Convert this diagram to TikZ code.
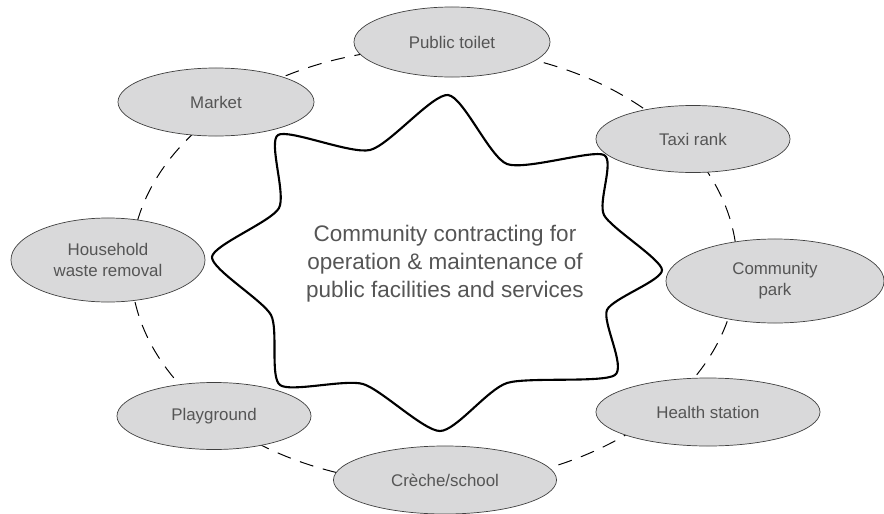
\documentclass[tikz,border=0pt]{standalone}
\usepackage{fontspec}
\setmainfont{Liberation Sans}
\usetikzlibrary{shapes.geometric}
\definecolor{bubble}{RGB}{217,217,218}
\definecolor{ink}{RGB}{85,85,85}
\tikzset{
  facility/.style={ellipse,draw=black!75,line width=0.5pt,fill=bubble,inner sep=0pt,
    text=ink,align=center,font=\fontsize{12}{15}\selectfont},
}
\begin{document}
\begin{tikzpicture}[x=0.025cm,y=-0.025cm]
  \useasboundingbox (0,0) rectangle (884,514);
  % ring behind the facilities
  \draw[dash pattern=on 10pt off 7pt,line width=0.7pt] (434,266) ellipse [x radius=7.575cm,y radius=5.45cm];
  % star
  \draw[line width=1.5pt,line join=round] plot[smooth cycle,tension=0.4] coordinates {(448,95) (507,164) (604,155) (604,215) (662,270) (607,310) (615,375) (507,383) (440,431) (363,384) (280,385) (271,315) (212,257) (279,208) (278,135) (370,150)};
  \node[text=ink,align=center,font=\fontsize{16}{20}\selectfont] (core) at (445,264) {Community contracting for\\operation \& maintenance of\\public facilities and services};
  % facilities
  \node[facility,minimum width=4.9cm,minimum height=1.75cm] (toilet) at (452,42) {Public toilet};
  \node[facility,minimum width=4.9cm,minimum height=1.7cm] (market) at (216,102) {Market};
  \node[facility,minimum width=4.85cm,minimum height=1.675cm] (taxi) at (693,139) {Taxi rank};
  \node[facility,minimum width=4.85cm,minimum height=2.1cm] (waste) at (108,260) {Household\\waste removal};
  \node[facility,minimum width=5.45cm,minimum height=2.1cm] (park) at (775,281) {Community\\park};
  \node[facility,minimum width=4.85cm,minimum height=1.675cm] (play) at (214,416) {Playground};
  \node[facility,minimum width=5.6cm,minimum height=1.7cm] (health) at (708,412) {Health station};
  \node[facility,minimum width=5.575cm,minimum height=1.7cm] (school) at (445,480) {Crèche/school};
\end{tikzpicture}
\end{document}
